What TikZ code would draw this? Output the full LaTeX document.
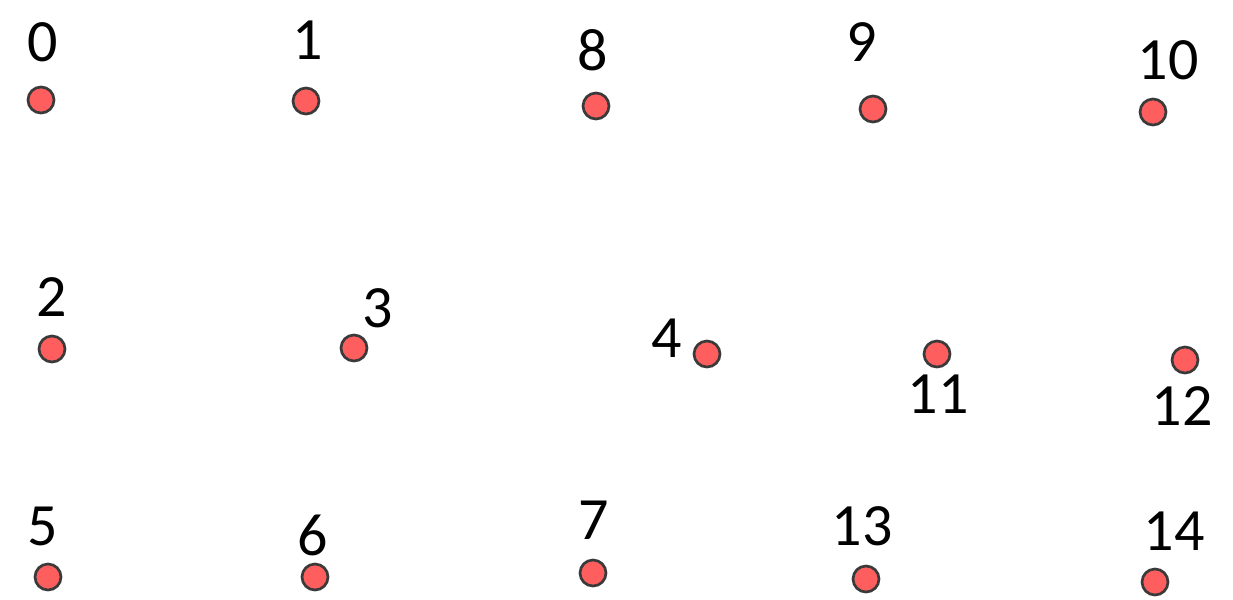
\documentclass[tikz,border=0pt]{standalone}
\usepackage{fontspec}
\setmainfont{Carlito}
\begin{document}
\begin{tikzpicture}[x=0.75pt,y=-0.75pt,
  dot/.style={circle,fill=dotred,draw=dotedge,line width=2pt,minimum size=19.5pt,inner sep=0pt},
  lbl/.style={inner sep=0pt,font=\fontsize{45}{50}\selectfont}]
\definecolor{dotred}{HTML}{FF5E5E}
\definecolor{dotedge}{HTML}{3A3A3A}
\useasboundingbox (0,0) rectangle (1233,600);
\foreach \n/\x/\y/\lx/\ly in {0/41/100/43/42, 1/306/101/308/40, 2/52/349/52/297, 3/354/348/378/308,
  4/707/354/667/338, 5/48/577/43/526, 6/315/577/313/535, 7/593/573/594/520,
  8/596/106/593/50, 9/873/109/862/42, 10/1153/112/1168/60, 11/937/354/938/394,
  12/1185/360/1182/406, 13/866/579/862/526, 14/1155/582/1174/531}{
  \node[dot] (d\n) at (\x,\y) {};
  \node[lbl] (l\n) at (\lx,\ly) {\n};
}
\end{tikzpicture}
\end{document}
